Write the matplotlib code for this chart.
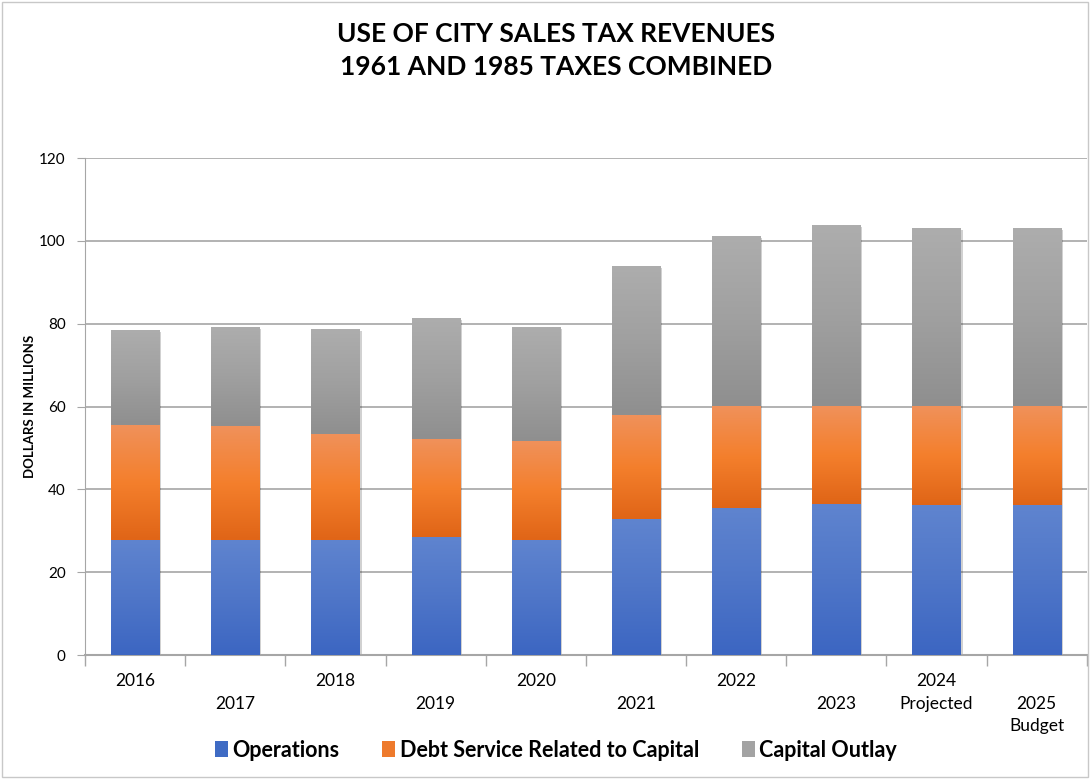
import numpy as np
import matplotlib
matplotlib.use("Agg")
import matplotlib.pyplot as plt
from matplotlib.colors import LinearSegmentedColormap
from matplotlib.patches import Patch, Rectangle
import matplotlib.patheffects as pe

# data (millions of dollars)
years = ["2016", "2017", "2018", "2019", "2020", "2021", "2022", "2023",
         "2024\nProjected", "2025\nBudget"]
operations = [27.8, 27.8, 27.8, 28.5, 27.8, 32.8, 35.6, 36.5, 36.2, 36.2]
debt_service = [27.7, 27.5, 25.6, 23.6, 23.9, 25.1, 24.5, 23.6, 23.9, 23.9]
capital_outlay = [23.0, 23.9, 25.3, 29.3, 27.5, 36.0, 41.1, 43.7, 43.0, 43.0]

series = ["Operations", "Debt Service Related to Capital", "Capital Outlay"]
# (top colour, mid colour, bottom colour) for the gradient fills
grads = [("#5f84cf", "#4f76c8", "#3c66c2"),
         ("#f0915a", "#f47f2c", "#e06517"),
         ("#adadad", "#a0a0a0", "#8f8f8f")]
legend_colors = ["#3f6bc4", "#ee7a2c", "#a3a3a3"]

plt.rcParams['font.family'] = ['Lato', 'DejaVu Sans']

fig = plt.figure(figsize=(10.9, 7.79), dpi=100)
ax = fig.add_axes([0.078, 0.159, 0.919, 0.638])

x = np.arange(len(years))
width = 0.48
bottom = np.zeros(len(years))
for vals, g in zip([operations, debt_service, capital_outlay], grads):
    cmap = LinearSegmentedColormap.from_list("g", [g[2], g[1], g[0]])
    bars = ax.bar(x, vals, width, bottom=bottom, color="none", linewidth=0, zorder=3)
    for b in bars:
        x0, y0 = b.get_x(), b.get_y()
        w, h = b.get_width(), b.get_height()
        shadow = Rectangle((x0, y0), w, h, facecolor="none", edgecolor="none",
                           path_effects=[pe.SimplePatchShadow(offset=(1.5, -1.5),
                                                              shadow_rgbFace="#000000",
                                                              alpha=0.18)],
                           zorder=2)
        ax.add_patch(shadow)
        img = ax.imshow(np.linspace(0, 1, 100).reshape(-1, 1), cmap=cmap,
                        extent=[x0, x0 + w, y0, y0 + h], origin="lower",
                        aspect="auto", zorder=3)
        img.set_clip_path(b)
    bottom += np.array(vals)

ax.set_xlim(-0.5, len(years) - 0.5)
ax.set_ylim(0, 120)
ax.set_yticks(range(0, 121, 20))
ax.yaxis.grid(True, color="#a6a6a6", linewidth=1.2, zorder=0)
ax.set_axisbelow(True)

# category boundary ticks, staggered labels at centres
ax.set_xticks(np.arange(-0.5, len(years), 1.0))
ax.set_xticklabels([])
ax.tick_params(axis="x", which="major", length=8, color="#a6a6a6", width=1)
ax.set_xticks(x, minor=True)
labels = [lab if i % 2 == 0 else "\n" + lab for i, lab in enumerate(years)]
ax.set_xticklabels(labels, minor=True, fontsize=12.5, linespacing=1.5)
ax.tick_params(axis="x", which="minor", length=0, pad=13)
for t in ax.get_xticklabels(minor=True):
    t.set_verticalalignment("top")
ax.tick_params(axis="y", length=6, color="#a6a6a6", labelsize=11, pad=8)

for s in ["top", "right"]:
    ax.spines[s].set_visible(False)
ax.spines["left"].set_color("#a6a6a6")
ax.spines["bottom"].set_color("#a6a6a6")
ax.spines["bottom"].set_linewidth(1.5)

ax.set_ylabel("DOLLARS IN MILLIONS", fontsize=9.5, fontweight="bold", labelpad=2)

fig.text(0.51, 0.935, "USE OF CITY SALES TAX REVENUES\n1961 AND 1985 TAXES COMBINED",
         ha="center", va="center", fontsize=19, fontweight="bold", linespacing=1.45)

handles = [Patch(facecolor=c, edgecolor="none") for c in legend_colors]
fig.legend(handles, series, loc="center", bbox_to_anchor=(0.51, 0.037), ncol=3,
           frameon=False, prop={"size": 15.5, "weight": "bold"},
           handlelength=0.6, handleheight=0.8, handletextpad=0.2, columnspacing=2.0)

fig.add_artist(Rectangle((0.002, 0.002), 0.996, 0.996, transform=fig.transFigure,
                         facecolor="none", edgecolor="#c8c8c8", linewidth=1))

fig.savefig("out.png", dpi=100)
